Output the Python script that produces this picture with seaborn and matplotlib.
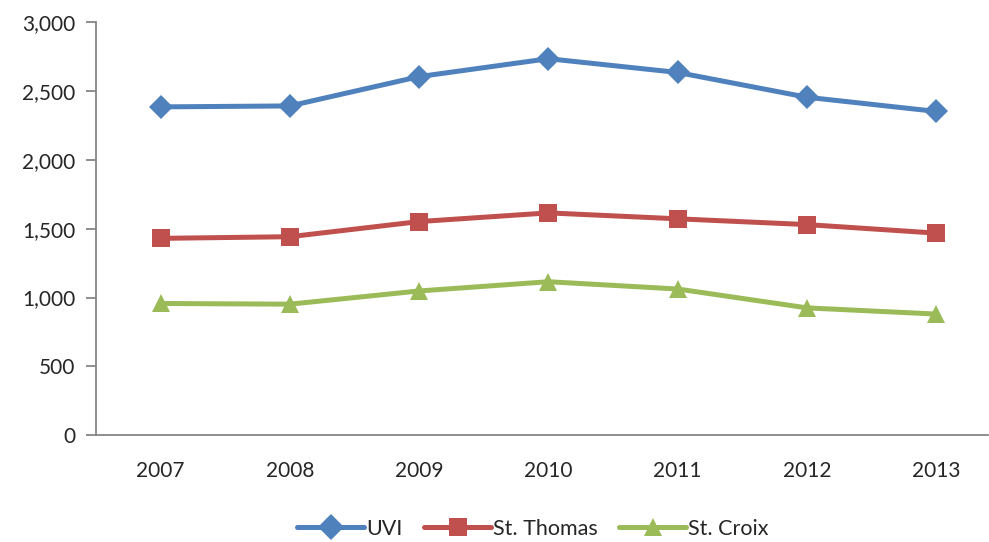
import pandas as pd
import matplotlib
matplotlib.use('Agg')
import matplotlib.pyplot as plt
import seaborn as sns

years = ['2007', '2008', '2009', '2010', '2011', '2012', '2013']
uvi = [2385, 2392, 2605, 2735, 2635, 2455, 2352]
st_thomas = [1430, 1442, 1552, 1615, 1572, 1530, 1468]
st_croix = [957, 952, 1048, 1115, 1062, 925, 880]

series = ['UVI', 'St. Thomas', 'St. Croix']
colors = ['#4F81BD', '#C0504D', '#9BBB59']
markers = ['D', 's', '^']

df = pd.DataFrame({'year': years, 'UVI': uvi, 'St. Thomas': st_thomas, 'St. Croix': st_croix})
long_df = df.melt(id_vars='year', var_name='series', value_name='value')

sns.set_style('white')
plt.rcParams['font.family'] = ['Lato', 'DejaVu Sans']

fig = plt.figure(figsize=(9.89, 5.42), dpi=100)
ax = fig.add_axes([0.097, 0.197, 0.902, 0.762])

sns.lineplot(data=long_df, x='year', y='value', hue='series', style='series',
             hue_order=series, style_order=series, palette=colors,
             markers=markers, dashes=False, markersize=12.5, linewidth=3.6,
             markeredgewidth=0, ax=ax, sort=False)

ax.set_xlim(-0.5, 6.4)
ax.set_ylim(0, 3000)
ax.set_yticks(range(0, 3001, 500))
ax.set_yticklabels([f'{v:,}' for v in range(0, 3001, 500)])
ax.set_xlabel('')
ax.set_ylabel('')

for side in ['top', 'right']:
    ax.spines[side].set_visible(False)
for side in ['left', 'bottom']:
    ax.spines[side].set_color('#868686')
    ax.spines[side].set_linewidth(1.3)

ax.tick_params(axis='y', which='major', left=True, length=7, width=1.3,
               color='#868686', labelsize=15, pad=8)
ax.tick_params(axis='x', which='major', bottom=False, labelsize=15, pad=15)

handles, labels = ax.get_legend_handles_labels()
ax.legend(handles, labels, loc='upper center', bbox_to_anchor=(0.49, -0.155),
          ncol=3, frameon=False, fontsize=15.5, handlelength=3.1,
          columnspacing=1.0, handletextpad=0.1, markerscale=1.05)

plt.savefig('out.png', dpi=100)
plt.close()
